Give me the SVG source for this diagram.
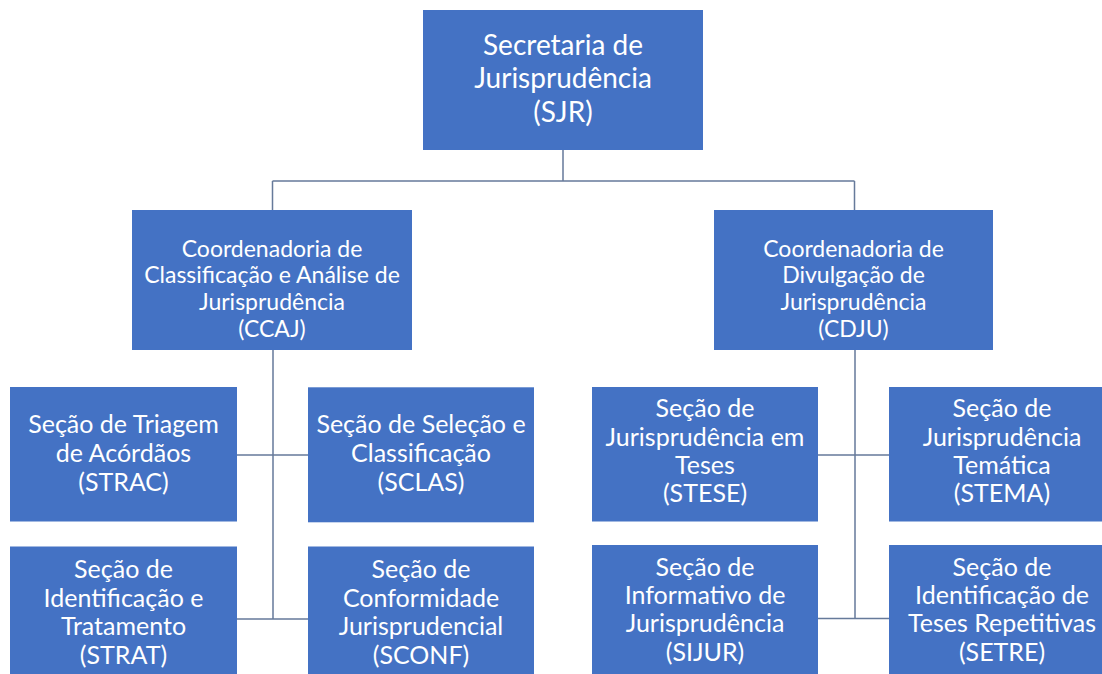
<svg xmlns="http://www.w3.org/2000/svg" width="1102" height="674" viewBox="0 0 1102 674">
<style>
.box{fill:#4472C4;}
.t{fill:#ffffff;font-family:Lato,"Liberation Sans",sans-serif;text-anchor:middle;}
.t1{font-size:28px;}
.t2{font-size:23px;}
.t3{font-size:25px;}
.c{stroke:#667a9a;stroke-width:1.5;fill:none;}
</style>
<rect x="0" y="0" width="1102" height="674" fill="#ffffff"/>
<g id="connectors">
<path class="c" d="M563,150 V181 M272.5,181 H854.5 M272.5,181 V210 M854.5,181 V210"/>
<path class="c" d="M273,350 V619 M237,455 H308 M237,619 H308"/>
<path class="c" d="M855,350 V618.5 M818,455 H889 M818,618.5 H889"/>
</g>
<g id="SJR">
<rect class="box" x="423" y="10" width="280" height="140"/>
<text class="t t1" x="563" y="55">Secretaria de</text>
<text class="t t1" x="563" y="88.3">Jurisprudência</text>
<text class="t t1" x="563" y="121.7">(SJR)</text>
</g>
<g id="CCAJ">
<rect class="box" x="132" y="210" width="280" height="140"/>
<text class="t t2" x="272" y="256.5">Coordenadoria de</text>
<text class="t t2" x="272" y="283.2">Classificação e Análise de</text>
<text class="t t2" x="272" y="309.9">Jurisprudência</text>
<text class="t t2" x="272" y="336.6">(CCAJ)</text>
</g>
<g id="CDJU">
<rect class="box" x="714" y="210" width="279" height="140"/>
<text class="t t2" x="853.5" y="256.5">Coordenadoria de</text>
<text class="t t2" x="853.5" y="283.2">Divulgação de</text>
<text class="t t2" x="853.5" y="309.9">Jurisprudência</text>
<text class="t t2" x="853.5" y="336.6">(CDJU)</text>
</g>
<g id="STRAC">
<rect class="box" x="10" y="387" width="227" height="134.5"/>
<text class="t t3" x="123.5" y="433.3">Seção de Triagem</text>
<text class="t t3" x="123.5" y="462">de Acórdãos</text>
<text class="t t3" x="123.5" y="490.7">(STRAC)</text>
</g>
<g id="SCLAS">
<rect class="box" x="308" y="387.3" width="226" height="135"/>
<text class="t t3" x="421" y="433.3">Seção de Seleção e</text>
<text class="t t3" x="421" y="462">Classificação</text>
<text class="t t3" x="421" y="490.7">(SCLAS)</text>
</g>
<g id="STRAT">
<rect class="box" x="10" y="546.5" width="227" height="140"/>
<text class="t t3" x="123.5" y="578">Seção de</text>
<text class="t t3" x="123.5" y="606.6">Identificação e</text>
<text class="t t3" x="123.5" y="635.2">Tratamento</text>
<text class="t t3" x="123.5" y="663.8">(STRAT)</text>
</g>
<g id="SCONF">
<rect class="box" x="308" y="546.5" width="226" height="140"/>
<text class="t t3" x="421" y="578">Seção de</text>
<text class="t t3" x="421" y="606.6">Conformidade</text>
<text class="t t3" x="421" y="635.2">Jurisprudencial</text>
<text class="t t3" x="421" y="663.8">(SCONF)</text>
</g>
<g id="STESE">
<rect class="box" x="592" y="387" width="226" height="134.5"/>
<text class="t t3" x="705" y="417.3">Seção de</text>
<text class="t t3" x="705" y="445.6">Jurisprudência em</text>
<text class="t t3" x="705" y="473.9">Teses</text>
<text class="t t3" x="705" y="502.2">(STESE)</text>
</g>
<g id="STEMA">
<rect class="box" x="889" y="387" width="226" height="134.5"/>
<text class="t t3" x="1002" y="417.3">Seção de</text>
<text class="t t3" x="1002" y="445.6">Jurisprudência</text>
<text class="t t3" x="1002" y="473.9">Temática</text>
<text class="t t3" x="1002" y="502.2">(STEMA)</text>
</g>
<g id="SIJUR">
<rect class="box" x="592" y="545" width="226" height="140"/>
<text class="t t3" x="705" y="575.7">Seção de</text>
<text class="t t3" x="705" y="604">Informativo de</text>
<text class="t t3" x="705" y="632.3">Jurisprudência</text>
<text class="t t3" x="705" y="660.6">(SIJUR)</text>
</g>
<g id="SETRE">
<rect class="box" x="889" y="545" width="226" height="140"/>
<text class="t t3" x="1002" y="575.7">Seção de</text>
<text class="t t3" x="1002" y="604">Identificação de</text>
<text class="t t3" x="1002" y="632.3">Teses Repetitivas</text>
<text class="t t3" x="1002" y="660.6">(SETRE)</text>
</g>
</svg>
